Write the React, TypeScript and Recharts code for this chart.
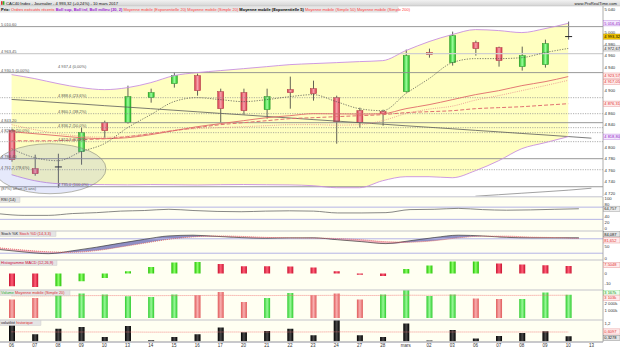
import React from 'react';
import {
  ComposedChart, Bar, Line, Area, XAxis, YAxis, ReferenceLine, ReferenceDot, CartesianGrid, Cell,
} from 'recharts';

const FONT = '"Liberation Sans", Arial, sans-serif';
const W = 620;
const AXIS_W = 17;

// x categories (last one is the empty future session)
const dayLabels = ['06', '07', '08', '09', '10', '13', '14', '15', '16', '17', '20', '21', '22', '23', '24', '27', '28', 'mars', '02', '03', '06', '07', '08', '09', '10', '13'];

// CAC40 daily candles
const opens = [4829.3, 4763.0, 4766.4, 4792.6, 4843.2, 4843.2, 4886.8, 4911.3, 4925.2, 4897.3, 4895.6, 4865.9, 4900.8, 4902.5, 4886.8, 4864.1, 4862.4, 4897.3, 4965.4, 4947.9, 4982.8, 4974.1, 4940.9, 4944.4, 4991.8];
const highs = [4832.7, 4787.4, 4789.1, 4834.5, 4846.7, 4907.8, 4902.5, 4930.5, 4928.7, 4902.5, 4902.5, 4902.5, 4923.5, 4916.5, 4890.3, 4869.4, 4865.9, 4970.6, 4972.3, 5002.0, 4986.3, 4975.8, 4975.8, 4988.0, 5019.5];
const lows = [4775.2, 4750.7, 4729.8, 4769.9, 4817.0, 4841.5, 4878.1, 4904.3, 4890.3, 4843.2, 4857.2, 4850.2, 4867.6, 4881.6, 4806.6, 4834.5, 4838.0, 4895.6, 4956.6, 4942.7, 4960.1, 4940.9, 4934.0, 4939.2, 4988.0];
const closes = [4778.6, 4754.2, 4766.0, 4825.8, 4829.3, 4888.6, 4895.6, 4925.2, 4899.0, 4867.6, 4864.1, 4888.6, 4895.6, 4893.8, 4844.9, 4843.5, 4858.9, 4960.1, 4961.9, 4995.0, 4972.3, 4951.4, 4960.1, 4981.1, 4993.32];

// overlays on the price panel
const bbUpper = [4927.0, 4920.0, 4911.3, 4904.3, 4900.8, 4904.3, 4913.0, 4925.2, 4930.5, 4934.0, 4937.4, 4940.9, 4944.4, 4946.2, 4947.9, 4949.7, 4951.4, 4968.9, 4984.6, 4996.8, 5005.5, 5003.8, 5000.3, 5007.2, 5016.45];
const bbLower = [4752.5, 4742.0, 4736.8, 4735.6, 4735.2, 4734.8, 4735.3, 4735.0, 4734.6, 4735.1, 4735.4, 4735.0, 4734.7, 4733.3, 4729.8, 4729.8, 4742.0, 4749.0, 4749.0, 4747.2, 4759.5, 4776.9, 4797.9, 4808.3, 4818.8];
const bbMid = [4839.8, 4831.0, 4824.1, 4819.7, 4817.9, 4819.7, 4824.0, 4830.1, 4832.8, 4834.5, 4836.2, 4838.0, 4839.7, 4839.8, 4838.9, 4839.8, 4846.7, 4859.0, 4866.8, 4872.0, 4882.5, 4890.4, 4899.1, 4907.8, 4917.05];
const ema20 = [4827.5, 4824.0, 4820.5, 4817.0, 4815.3, 4817.0, 4822.3, 4829.3, 4836.2, 4841.5, 4846.7, 4851.9, 4855.4, 4858.9, 4858.6, 4858.2, 4858.9, 4867.6, 4874.6, 4883.3, 4892.1, 4899.0, 4907.8, 4914.7, 4923.57];
const sma50 = [4811.8, 4811.5, 4812.0, 4813.6, 4815.3, 4818.8, 4824.0, 4829.3, 4834.5, 4839.7, 4843.2, 4846.7, 4850.2, 4851.9, 4853.7, 4855.4, 4857.2, 4860.7, 4862.4, 4864.1, 4867.6, 4869.4, 4871.1, 4873.7, 4876.31];
const ema5 = [4797.8, 4782.1, 4776.9, 4792.6, 4806.6, 4834.5, 4857.2, 4879.9, 4886.8, 4883.4, 4879.9, 4883.4, 4888.6, 4892.1, 4879.9, 4867.6, 4864.1, 4893.8, 4920.0, 4947.9, 4954.9, 4954.9, 4956.6, 4965.4, 4972.67];
const longMa = [4883.7, 4881.1, 4878.3, 4875.7, 4872.9, 4870.3, 4867.6, 4864.9, 4862.2, 4859.4, 4856.8, 4854.0, 4851.4, 4848.6, 4846.0, 4843.2, 4840.6, 4837.8, 4835.2, 4832.6, 4829.8, 4827.2, 4824.4, 4821.8, 4819.0, 4816.2];
const ma200 = [null, null, null, null, null, null, null, null, null, null, null, null, null, null, null, null, null, null, null, null, 4715.0, 4717.6, 4720.2, 4722.8, 4725.5, 4728.9];

// horizontal levels drawn on the price panel
const solidLevels = [5010.7, 4930.5, 4843.2, 4780.4, 4731.5];
const lightLevels = [4963.6];
const dottedLevels = [4886.8, 4858.9, 4834.5, 4825.8, 4810.1, 4761.2];
const levelNotes = [
  { idx: 0, price: 5010.7, text: '5 010,60' },
  { idx: 0, price: 4963.6, text: '4 963,45' },
  { idx: 0, price: 4930.5, text: '4 930,5 (0,00%)' },
  { idx: 2, price: 4937.4, text: '4 937,4 (0,00%)' },
  { idx: 2, price: 4886.8, text: '4 888,6 (23,6%)' },
  { idx: 2, price: 4858.9, text: '4 860,1 (38,2%)' },
  { idx: 0, price: 4843.2, text: '4 843,20' },
  { idx: 2, price: 4834.5, text: '4 836,2 (50,0%)' },
  { idx: 0, price: 4825.8, text: '4 825,8 (50,0%)' },
  { idx: 2, price: 4810.1, text: '4 812,3 (61,8%)' },
  { idx: 0, price: 4780.4, text: '4 780,40' },
  { idx: 0, price: 4761.2, text: '4 761,2 (78,6%)' },
  { idx: 2, price: 4731.5, text: '4 735,0 (100,0%)' },
  { idx: 0, price: 4723.5, text: '(87%) offset (5 ans)' },
];
const ellipseCenter = { idx: 2, price: 4762.9 };

const priceTicks = [5040, 5000, 4980, 4960, 4940, 4900, 4860, 4840, 4800, 4780, 4760, 4740, 4720];
const priceTags = [
  { value: 5016.45, text: '5 016,45', kind: 'purple' },
  { value: 4993.32, text: '4 993,32', kind: 'close' },
  { value: 4972.67, text: '4 972,67', kind: 'gray' },
  { value: 4923.57, text: '4 923,57', kind: 'red', dy: -1 },
  { value: 4917.05, text: '4 917,05', kind: 'red', dy: 1.5 },
  { value: 4876.31, text: '4 876,31', kind: 'red' },
  { value: 4818.8, text: '4 818,80', kind: 'purple' },
];

// indicators
const rsiValues = [48, 43, 43, 49, 52, 57, 59, 63, 59, 56, 55, 57, 58, 57, 51, 51, 52, 62, 63, 66, 62, 60, 61, 63, 64.757];
const stochK = [35, 25, 18, 30, 45, 62, 78, 92, 95, 90, 85, 82, 84, 84, 76, 68, 60, 72, 85, 95, 92, 86, 84, 84, 84.087];
const stochD = [42, 33, 26, 24, 31, 46, 62, 78, 88, 92, 90, 86, 84, 83, 81, 76, 68, 66, 72, 84, 91, 91, 87, 85, 81.652];
const macdHist = [-12.7, -13.3, -12.7, -7.7, -4.3, 2.4, 6.7, 11.0, 11.7, 9.7, 7.4, 7.3, 7.2, 6.0, 2.3, -1.2, -2.3, 4.7, 8.0, 12.0, 12.1, 10.0, 9.0, 8.3, 7.5048];
const volumes = [2.51, 2.73, 3.33, 3.33, 3.19, 2.96, 2.86, 3.19, 3.10, 3.55, 2.18, 2.73, 3.41, 3.10, 3.33, 2.51, 3.19, 3.78, 3.00, 3.19, 2.65, 2.59, 2.59, 3.47, 3.167];
const volumeMa = [3.02, 3.01, 3.03, 3.05, 3.06, 3.06, 3.05, 3.06, 3.07, 3.09, 3.07, 3.06, 3.08, 3.08, 3.09, 3.07, 3.08, 3.11, 3.10, 3.11, 3.09, 3.08, 3.08, 3.10, 3.103];
const volatility = [1.10, 0.46, 0.83, 0.94, 0.28, 1.00, 0.07, 0.28, 0.46, 0.90, 0.59, 0.68, 0.83, 0.39, 1.38, 0.39, 0.28, 1.16, 0.05, 0.74, 0.18, 0.35, 0.54, 0.66, 0.3278];
const volatilityAvg = [0.62, 0.62, 0.61, 0.61, 0.61, 0.61, 0.60, 0.60, 0.60, 0.61, 0.61, 0.61, 0.61, 0.61, 0.62, 0.62, 0.61, 0.61, 0.61, 0.61, 0.61, 0.61, 0.61, 0.61, 0.6097];

const v = (arr: (number | null)[], i: number) => (i < arr.length ? arr[i] : null);

const rows = dayLabels.map((label, i) => {
  const k = v(stochK, i);
  const d = v(stochD, i);
  return {
    idx: i,
    label,
    open: v(opens, i), high: v(highs, i), low: v(lows, i), close: v(closes, i),
    bbUpper: v(bbUpper, i), bbLower: v(bbLower, i), bbMid: v(bbMid, i),
    ema20: v(ema20, i), sma50: v(sma50, i), ema5: v(ema5, i), longMa: v(longMa, i), ma200: v(ma200, i),
    rsi: v(rsiValues, i),
    k, d,
    stochUp: k == null || d == null ? null : k >= d ? [d, k] : [k, k],
    stochDown: k == null || d == null ? null : k < d ? [k, d] : [d, d],
    macd: v(macdHist, i),
    volume: v(volumes, i), volumeMa: v(volumeMa, i),
    vola: v(volatility, i), volaAvg: v(volatilityAvg, i),
  };
});

const tagStyles: Record<string, { bg: string; border: string; color: string }> = {
  purple: { bg: '#f4e8ff', border: '#b070d8', color: '#9020c0' },
  close: { bg: '#f2c400', border: '#b09000', color: '#000' },
  gray: { bg: '#ececec', border: '#888', color: '#222' },
  red: { bg: '#ffecec', border: '#e08080', color: '#e03030' },
  green: { bg: '#eaffea', border: '#40b040', color: '#209020' },
  dark: { bg: '#e4e4e4', border: '#777', color: '#111' },
};

const thousands = (n: number) => {
  const s = Math.round(n).toString();
  return s.length > 3 ? `${s.slice(0, s.length - 3)} ${s.slice(-3)}` : s;
};

function makeTick(tags: any[], fmt: (n: number) => string) {
  return (props: any) => {
    const { x, y, payload } = props;
    const tag = tags.find((t) => Math.abs(t.value - payload.value) < 1e-6);
    if (tag) {
      const st = tagStyles[tag.kind];
      const dy = tag.dy || 0;
      return (
        <g>
          <rect x={x - 0.5} y={y - 2.6 + dy} width={16.5} height={5.2} fill={st.bg} stroke={st.border} strokeWidth={0.4} />
          <text x={x + 0.3} y={y + 1.4 + dy} fontSize={4} fill={st.color} fontFamily={FONT}>{tag.text}</text>
        </g>
      );
    }
    return (
      <text x={x + 0.5} y={y + 1.5} fontSize={4.3} fill="#333" fontFamily={FONT}>{fmt(payload.value)}</text>
    );
  };
}

const Candle = (props: any) => {
  const { x, y, width, height, payload } = props;
  if (!payload || payload.high == null) return null;
  const { open, high, low, close } = payload;
  const span = high - low || 1;
  const top = Math.min(y, y + height);
  const pxPer = Math.abs(height) / span;
  const yOf = (val: number) => top + (high - val) * pxPer;
  const cx = x + width / 2;
  const doji = Math.abs(close - open) < 2;
  const up = close >= open;
  const bodyTop = yOf(Math.max(open, close));
  const bodyBot = yOf(Math.min(open, close));
  return (
    <g>
      <line x1={cx} x2={cx} y1={yOf(high)} y2={yOf(low)} stroke="#3a3a3a" strokeWidth={0.8} />
      {doji ? (
        <line x1={x - 0.5} x2={x + width + 0.5} y1={yOf(close)} y2={yOf(close)} stroke="#222" strokeWidth={1} />
      ) : (
        <rect
          x={x}
          y={bodyTop}
          width={width}
          height={Math.max(bodyBot - bodyTop, 1)}
          fill={up ? 'url(#cGreen)' : 'url(#cRed)'}
          stroke={up ? '#1f8f1f' : '#a83040'}
          strokeWidth={0.5}
        />
      )}
    </g>
  );
};

const noteShape = (text: string, shift: number) => (p: any) => (
  <text x={p.cx + shift} y={p.cy - 1} fontSize={4} fill="#555" fontFamily={FONT}>{text}</text>
);

const ellipseShape = (p: any) => (
  <ellipse cx={p.cx - 8} cy={p.cy} rx={56} ry={25} fill="rgba(100,120,230,0.16)" stroke="#8a8a78" strokeWidth={0.6} />
);

const commonX = <XAxis dataKey="idx" type="category" hide />;

function Panel({ top, height, children }: { top: number; height: number; children: React.ReactNode }) {
  return <div style={{ position: 'absolute', left: 0, top, width: W, height }}>{children}</div>;
}

const legendParts = [
  { text: 'Prix: ', color: '#000', bold: true },
  { text: 'Ordres exécutés récents ', color: '#ff3030' },
  { text: 'Boll sup, Boll inf, Boll milieu (20, 2) ', color: '#a020d0', bold: true },
  { text: 'Moyenne mobile (Exponentielle 20) ', color: '#ff4040' },
  { text: 'Moyenne mobile (Simple 20) ', color: '#ff4040' },
  { text: 'Moyenne mobile (Exponentielle 5) ', color: '#000', bold: true },
  { text: 'Moyenne mobile (Simple 50) ', color: '#ff4040' },
  { text: 'Moyenne mobile (Simple 200)', color: '#ff4040' },
];

const panelTitles = [
  { y: 197.5, w: 20, parts: [{ text: 'RSI (14)', color: '#222' }] },
  { y: 231.5, w: 56, parts: [{ text: 'Stoch %K ', color: '#222' }, { text: 'Stoch %D (14,3,3)', color: '#e03030' }] },
  { y: 260.5, w: 57, parts: [{ text: 'Histogramme MACD (12,26,9)', color: '#d0103a' }] },
  { y: 290.5, w: 70, parts: [{ text: 'Volume ', color: '#30b030' }, { text: 'Moyenne mobile (Simple 20)', color: '#e03030' }] },
  { y: 320.5, w: 41, parts: [{ text: 'volatilité ', color: '#222' }, { text: 'historique', color: '#e03030' }] },
];

const separators = [196.8, 231, 260, 290, 320, 342];

const grad = (id: string, edge: string, mid: string) => (
  <linearGradient id={id} x1="0" y1="0" x2="1" y2="0">
    <stop offset="0%" stopColor={edge} />
    <stop offset="50%" stopColor={mid} />
    <stop offset="100%" stopColor={edge} />
  </linearGradient>
);

export default function App() {
  const macdColor = (i: number) => (i === 0 || macdHist[i] < macdHist[i - 1] ? 'url(#gRed)' : 'url(#gGreen)');
  const volColor = (i: number) => {
    const up = i === 0 ? closes[0] >= opens[0] : closes[i] >= closes[i - 1];
    return up ? 'url(#gVolGreen)' : 'url(#gVolRed)';
  };

  return (
    <div style={{ position: 'absolute', left: 0, top: 0, width: W, height: 349, background: '#fff', fontFamily: FONT, overflow: 'hidden' }}>
      <svg width={0} height={0} style={{ position: 'absolute' }}>
        <defs>
          {grad('cGreen', '#22b822', '#9cff9c')}
          {grad('cRed', '#d83848', '#f6a2ac')}
          {grad('gGreen', '#22c000', '#8cff6a')}
          {grad('gRed', '#c8102e', '#ff6078')}
          {grad('gVolGreen', '#2ecc2e', '#98f898')}
          {grad('gVolRed', '#e05a5a', '#f8b0b0')}
          {grad('gBlack', '#000', '#4a4a4a')}
          <linearGradient id="hdr" x1="0" y1="0" x2="0" y2="1">
            <stop offset="0%" stopColor="#f2f2f2" />
            <stop offset="100%" stopColor="#d4d4d4" />
          </linearGradient>
        </defs>
      </svg>

      {/* price panel */}
      <Panel top={0} height={197}>
        <ComposedChart width={W} height={197} data={rows} margin={{ top: 5.8, right: 0, bottom: 0.8, left: 0 }}>
          {commonX}
          <YAxis
            orientation="right"
            type="number"
            width={AXIS_W}
            domain={[4715, 5047]}
            allowDataOverflow
            ticks={[...priceTicks, ...priceTags.map((t) => t.value)]}
            interval={0}
            tickLine={false}
            tickSize={0}
            tickMargin={1}
            axisLine={{ stroke: '#999', strokeWidth: 0.8 }}
            tick={makeTick(priceTags, thousands)}
          />
          <Area
            dataKey={(d: any) => (d.bbLower == null ? null : [d.bbLower, d.bbUpper])}
            type="monotone"
            fill="#ffffc0"
            fillOpacity={1}
            stroke="none"
            isAnimationActive={false}
          />
          {solidLevels.map((p) => (
            <ReferenceLine key={`s${p}`} y={p} stroke="#8c8c8c" strokeWidth={0.9} />
          ))}
          {lightLevels.map((p) => (
            <ReferenceLine key={`l${p}`} y={p} stroke="#cfcfcf" strokeWidth={1.4} />
          ))}
          {dottedLevels.map((p) => (
            <ReferenceLine key={`d${p}`} y={p} stroke="#8c8c8c" strokeWidth={0.7} strokeDasharray="1.2 1.2" />
          ))}
          <ReferenceDot x={ellipseCenter.idx} y={ellipseCenter.price} r={1} shape={ellipseShape} />
          {levelNotes.map((n, i) => (
            <ReferenceDot key={`n${i}`} x={n.idx} y={n.price} r={1} shape={noteShape(n.text, n.idx === 0 ? -10.6 : 0)} />
          ))}
          <Line dataKey="longMa" type="monotone" stroke="#5a5a5a" strokeWidth={0.8} dot={false} activeDot={false} isAnimationActive={false} />
          <Line dataKey="ma200" type="monotone" stroke="#8a8a8a" strokeWidth={0.8} dot={false} activeDot={false} isAnimationActive={false} />
          <Line dataKey="sma50" type="monotone" stroke="#e07070" strokeWidth={1} strokeDasharray="4 2" dot={false} activeDot={false} isAnimationActive={false} />
          <Line dataKey="bbMid" type="monotone" stroke="#e88a8a" strokeWidth={0.8} strokeDasharray="1 1.2" dot={false} activeDot={false} isAnimationActive={false} />
          <Line dataKey="ema20" type="monotone" stroke="#e06a6a" strokeWidth={0.9} dot={false} activeDot={false} isAnimationActive={false} />
          <Line dataKey="ema5" type="monotone" stroke="#4a4a4a" strokeWidth={0.7} strokeDasharray="1.3 1.3" dot={false} activeDot={false} isAnimationActive={false} />
          <Line dataKey="bbUpper" type="monotone" stroke="#c890e0" strokeWidth={0.9} dot={false} activeDot={false} isAnimationActive={false} />
          <Line dataKey="bbLower" type="monotone" stroke="#c890e0" strokeWidth={0.9} dot={false} activeDot={false} isAnimationActive={false} />
          <Bar
            dataKey={(d: any) => (d.high == null ? null : [d.low, d.high])}
            barSize={6}
            shape={Candle}
            isAnimationActive={false}
          />
        </ComposedChart>
      </Panel>

      {/* RSI */}
      <Panel top={197} height={34}>
        <ComposedChart width={W} height={34} data={rows} margin={{ top: 0, right: 0, bottom: 0, left: 0 }}>
          <CartesianGrid fill="#fffff2" horizontal={false} vertical={false} />
          {commonX}
          <YAxis orientation="right" type="number" width={AXIS_W} domain={[-8.2, 103.3]} allowDataOverflow
            ticks={[100, 80, 40, 20, 0, 64.757]} interval={0} tickLine={false} tickSize={0} tickMargin={1}
            axisLine={{ stroke: '#999', strokeWidth: 0.8 }}
            tick={makeTick([{ value: 64.757, text: '64,757', kind: 'gray' }], (n) => `${n}`)} />
          <ReferenceLine y={70} stroke="#b4b4e6" strokeWidth={1} />
          <ReferenceLine y={30} stroke="#b4b4e6" strokeWidth={1} />
          <Line dataKey="rsi" type="monotone" stroke="#6a6a6a" strokeWidth={0.8} dot={false} activeDot={false} isAnimationActive={false} />
        </ComposedChart>
      </Panel>

      {/* Stochastic */}
      <Panel top={231} height={29}>
        <ComposedChart width={W} height={29} data={rows} margin={{ top: 0, right: 0, bottom: 0, left: 0 }}>
          <CartesianGrid fill="#fffff2" horizontal={false} vertical={false} />
          {commonX}
          <YAxis orientation="right" type="number" width={AXIS_W} domain={[-8.3, 112.5]} allowDataOverflow
            ticks={[50, 0, 84.087, 81.652]} interval={0} tickLine={false} tickSize={0} tickMargin={1}
            axisLine={{ stroke: '#999', strokeWidth: 0.8 }}
            tick={makeTick([
              { value: 84.087, text: '84,087', kind: 'dark', dy: -3.5 },
              { value: 81.652, text: '81,652', kind: 'red', dy: 2 },
            ], (n) => `${n}`)} />
          <ReferenceLine y={80} stroke="#b4b4e6" strokeWidth={1} />
          <ReferenceLine y={20} stroke="#b4b4e6" strokeWidth={1} />
          <Area dataKey="stochUp" type="monotone" fill="#6a6ab4" fillOpacity={0.75} stroke="none" isAnimationActive={false} />
          <Area dataKey="stochDown" type="monotone" fill="#f0a0b4" fillOpacity={0.8} stroke="none" isAnimationActive={false} />
          <Line dataKey="k" type="monotone" stroke="#3a3a3a" strokeWidth={0.7} dot={false} activeDot={false} isAnimationActive={false} />
          <Line dataKey="d" type="monotone" stroke="#e05a5a" strokeWidth={0.8} strokeDasharray="1 1" dot={false} activeDot={false} isAnimationActive={false} />
        </ComposedChart>
      </Panel>

      {/* MACD histogram */}
      <Panel top={260} height={30}>
        <ComposedChart width={W} height={30} data={rows} margin={{ top: 0, right: 0, bottom: 0, left: 0 }}>
          <CartesianGrid fill="#fffff2" horizontal={false} vertical={false} />
          {commonX}
          <YAxis orientation="right" type="number" width={AXIS_W} domain={[-16.4, 13.6]} allowDataOverflow
            ticks={[0, -10, 7.5048]} interval={0} tickLine={false} tickSize={0} tickMargin={1}
            axisLine={{ stroke: '#999', strokeWidth: 0.8 }}
            tick={makeTick([{ value: 7.5048, text: '7,5048', kind: 'red', dy: -1 }], (n) => `${n}`)} />
          <Bar dataKey="macd" barSize={6} isAnimationActive={false}>
            {rows.map((r, i) => (
              <Cell key={i} fill={r.macd == null ? 'none' : macdColor(i)} />
            ))}
          </Bar>
        </ComposedChart>
      </Panel>

      {/* Volume */}
      <Panel top={290} height={30}>
        <ComposedChart width={W} height={30} data={rows} margin={{ top: 0, right: 0, bottom: 0, left: 0 }}>
          <CartesianGrid fill="#fffff2" horizontal={false} vertical={false} />
          {commonX}
          <YAxis orientation="right" type="number" width={AXIS_W} domain={[-0.27, 3.82]} allowDataOverflow
            ticks={[2, 1, 3.167, 3.103]} interval={0} tickLine={false} tickSize={0} tickMargin={1}
            axisLine={{ stroke: '#999', strokeWidth: 0.8 }}
            tick={makeTick([
              { value: 3.167, text: '3 167k', kind: 'green', dy: -2.2 },
              { value: 3.103, text: '3 103k', kind: 'red', dy: 2.4 },
            ], (n) => `${thousands(n * 1000)}k`)} />
          <Bar dataKey="volume" barSize={6} isAnimationActive={false}>
            {rows.map((r, i) => (
              <Cell key={i} fill={r.volume == null ? 'none' : volColor(i)} />
            ))}
          </Bar>
          <Line dataKey="volumeMa" type="monotone" stroke="#f07070" strokeWidth={0.8} strokeDasharray="1 1" dot={false} activeDot={false} isAnimationActive={false} />
        </ComposedChart>
      </Panel>

      {/* Volatility + date axis */}
      <Panel top={320} height={29}>
        <ComposedChart width={W} height={29} data={rows} margin={{ top: 0, right: 0, bottom: 0, left: 0 }}>
          <CartesianGrid fill="#fffff2" horizontal={false} vertical={false} />
          <XAxis
            dataKey="idx"
            type="category"
            height={7}
            interval={0}
            tickLine={false}
            tickSize={0}
            tickMargin={1.5}
            axisLine={{ stroke: '#999', strokeWidth: 0.8 }}
            tick={{ fontSize: 4.5, fill: '#333', fontFamily: FONT }}
            tickFormatter={(i: number) => dayLabels[i]}
          />
          <YAxis orientation="right" type="number" width={AXIS_W} domain={[-0.046, 1.397]} allowDataOverflow
            ticks={[1.2, 0.6097, 0.3278]} interval={0} tickLine={false} tickSize={0} tickMargin={1}
            axisLine={{ stroke: '#999', strokeWidth: 0.8 }}
            tick={makeTick([
              { value: 0.6097, text: '0,6097', kind: 'red', dy: -0.5 },
              { value: 0.3278, text: '0,3278', kind: 'dark', dy: 1.5 },
            ], (n) => `${n}`.replace('.', ','))} />
          <Bar dataKey="vola" barSize={6} fill="url(#gBlack)" isAnimationActive={false} />
          <Line dataKey="volaAvg" type="monotone" stroke="#f07070" strokeWidth={0.8} strokeDasharray="1 1" dot={false} activeDot={false} isAnimationActive={false} />
        </ComposedChart>
      </Panel>

      {/* header, panel titles and separators */}
      <svg width={W} height={349} style={{ position: 'absolute', left: 0, top: 0, pointerEvents: 'none' }}>
        <rect x={0} y={0} width={W} height={6} fill="url(#hdr)" />
        <line x1={0} x2={W} y1={6} y2={6} stroke="#b8b8b8" strokeWidth={0.5} />
        <rect x={1} y={1.2} width={1.6} height={3.6} fill="#e03030" />
        <rect x={2.8} y={1.2} width={1.6} height={3.6} fill="#30b030" />
        <text x={6} y={4.8} fontSize={4.1} fill="#111" fontFamily={FONT}>
          CAC40 Index - Journalier - 4 993,32 (+0,24%) - 10 mars 2017
        </text>
        <text x={617} y={4.8} fontSize={4.1} fill="#222" fontFamily={FONT} textAnchor="end">www.ProRealTime.com</text>
        <rect x={0} y={6.5} width={398} height={5.6} fill="#e6e6e6" stroke="#cfcfcf" strokeWidth={0.4} />
        <text x={1} y={10.9} fontSize={4} fontFamily={FONT}>
          {legendParts.map((p, i) => (
            <tspan key={i} fill={p.color} fontWeight={p.bold ? 'bold' : 'normal'}>{p.text}</tspan>
          ))}
        </text>
        {separators.map((y) => (
          <line key={y} x1={0} x2={603} y1={y} y2={y} stroke="#b4b4c0" strokeWidth={0.8} />
        ))}
        {panelTitles.map((t) => (
          <g key={t.y}>
            <rect x={0} y={t.y} width={t.w} height={5} fill="#e4e4e4" stroke="#c8c8c8" strokeWidth={0.4} />
            <text x={1} y={t.y + 3.9} fontSize={3.9} fontFamily={FONT}>
              {t.parts.map((p, i) => (
                <tspan key={i} fill={p.color}>{p.text}</tspan>
              ))}
            </text>
          </g>
        ))}
      </svg>
    </div>
  );
}
